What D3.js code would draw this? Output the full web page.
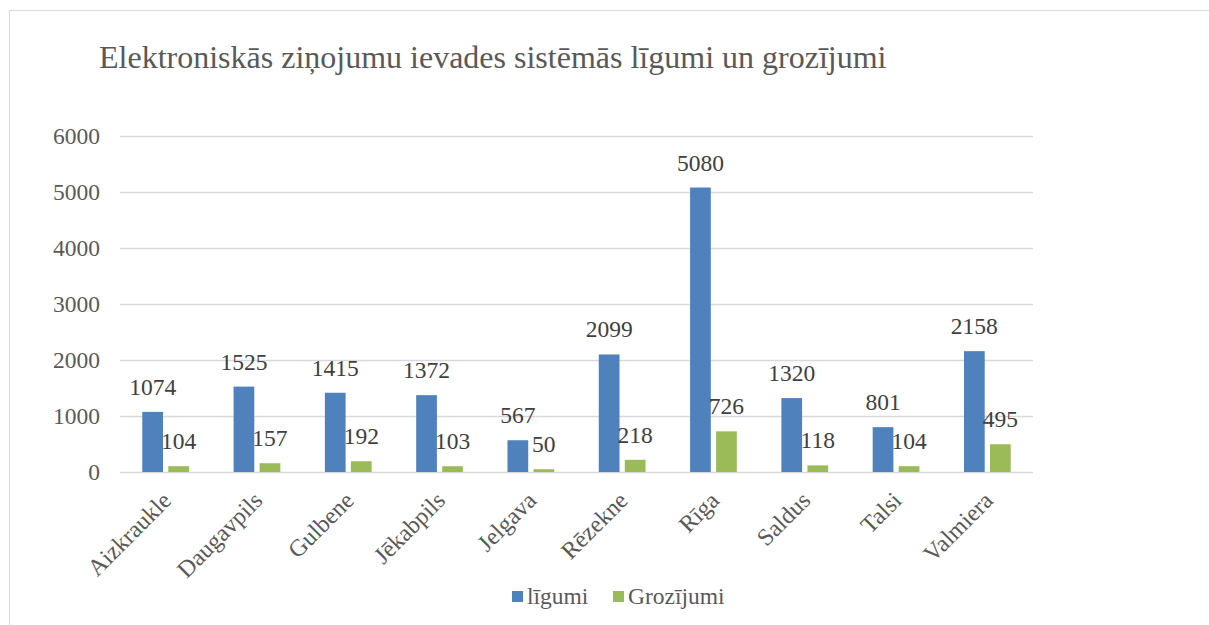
<!DOCTYPE html>
<html>
<head>
<meta charset="utf-8">
<script src="https://cdn.jsdelivr.net/npm/d3@7/dist/d3.min.js"></script>
<style>
  html, body { margin: 0; padding: 0; background: #ffffff; }
  svg { display: block; }
  svg text { font-family: "Liberation Serif", Tinos, "Times New Roman", "DejaVu Serif", serif; }
</style>
</head>
<body>
<svg id="chart" width="1209" height="625"></svg>
<script>
const categories = ["Aizkraukle", "Daugavpils", "Gulbene", "Jēkabpils", "Jelgava", "Rēzekne", "Rīga", "Saldus", "Talsi", "Valmiera"];
const ligumi = [1074, 1525, 1415, 1372, 567, 2099, 5080, 1320, 801, 2158];
const grozijumi = [104, 157, 192, 103, 50, 218, 726, 118, 104, 495];
const seriesNames = ["līgumi", "Grozījumi"];
const seriesColors = ["#4f81bd", "#9bbb59"];
const yTicks = [0, 1000, 2000, 3000, 4000, 5000, 6000];
const titleText = "Elektroniskās ziņojumu ievades sistēmās līgumi un grozījumi";

const FONT = "\"Liberation Serif\", Tinos, \"Times New Roman\", \"DejaVu Serif\", serif";
const svg = d3.select("#chart");

// outer border
svg.append("rect")
  .attr("x", 9.5).attr("y", 10.5)
  .attr("width", 1210).attr("height", 630)
  .attr("fill", "none").attr("stroke", "#d9d9d9").attr("stroke-width", 1);

// title
svg.append("text")
  .attr("x", 99).attr("y", 68)
  .style("font-family", FONT).style("font-size", "32px")
  .attr("fill", "#595959")
  .text(titleText);

const plotLeft = 120, plotRight = 1033, plotTop = 136, plotBottom = 472;

const x = d3.scaleBand().domain(categories).range([plotLeft, plotRight]).paddingInner(0).paddingOuter(0);
const y = d3.scaleLinear().domain([0, 6000]).range([plotBottom, plotTop]);

const barW = x.bandwidth() * 0.227;
const gap = x.bandwidth() * 0.058;
const groupW = barW * 2 + gap;
const xs = d3.scaleBand().domain([0, 1]).range([0, groupW]).paddingInner(gap / (barW + gap)).paddingOuter(0);

// gridlines
svg.append("g").selectAll("line").data(yTicks).join("line")
  .attr("x1", plotLeft).attr("x2", plotRight)
  .attr("y1", d => Math.round(y(d)) + 0.5).attr("y2", d => Math.round(y(d)) + 0.5)
  .attr("stroke", "#d9d9d9").attr("stroke-width", 1.3);

// y axis labels
const yAxis = d3.axisLeft(y).tickValues(yTicks).tickSize(0).tickPadding(0).tickFormat(d3.format("d"));
const yg = svg.append("g").attr("transform", `translate(${plotLeft - 20},0)`).call(yAxis);
yg.attr("font-family", null).attr("font-size", null);
yg.select(".domain").remove();
yg.selectAll("text")
  .style("font-family", FONT).style("font-size", "23.5px").attr("fill", "#595959")
  .attr("dy", "0.32em");

const data = categories.map((c, i) => ({ cat: c, vals: [ligumi[i], grozijumi[i]] }));

const groups = svg.append("g").selectAll("g").data(data).join("g")
  .attr("transform", d => `translate(${x(d.cat) + (x.bandwidth() - groupW) / 2},0)`);

groups.selectAll("rect").data(d => d.vals.map((v, k) => ({ v, k }))).join("rect")
  .attr("x", d => xs(d.k))
  .attr("width", xs.bandwidth())
  .attr("y", d => y(d.v))
  .attr("height", d => y(0) - y(d.v))
  .attr("fill", d => seriesColors[d.k]);

groups.selectAll("text").data(d => d.vals.map((v, k) => ({ v, k }))).join("text")
  .attr("x", d => xs(d.k) + xs.bandwidth() / 2)
  .attr("y", d => y(d.v) - 17)
  .attr("text-anchor", "middle")
  .style("font-family", FONT).style("font-size", "23.5px").attr("fill", "#404040")
  .text(d => d.v);

// x axis labels, rotated
const xAxis = d3.axisBottom(x).tickSize(0).tickPadding(0);
const xg = svg.append("g").attr("transform", `translate(0,${plotBottom})`).call(xAxis);
xg.attr("font-family", null).attr("font-size", null);
xg.select(".domain").remove();
xg.selectAll("text")
  .style("font-family", FONT).style("font-size", "24px").attr("fill", "#595959")
  .attr("text-anchor", "end")
  .attr("dy", null)
  .attr("y", null)
  .attr("transform", "translate(7,30) rotate(-45)");

// legend
const legend = svg.append("g");
const legendX = [512, 613];
seriesNames.forEach((name, k) => {
  legend.append("rect")
    .attr("x", legendX[k]).attr("y", 591)
    .attr("width", 11).attr("height", 11)
    .attr("fill", seriesColors[k]);
  legend.append("text")
    .attr("x", legendX[k] + 15).attr("y", 604)
    .style("font-family", FONT).style("font-size", "23.5px").attr("fill", "#595959")
    .text(name);
});
</script>
</body>
</html>
